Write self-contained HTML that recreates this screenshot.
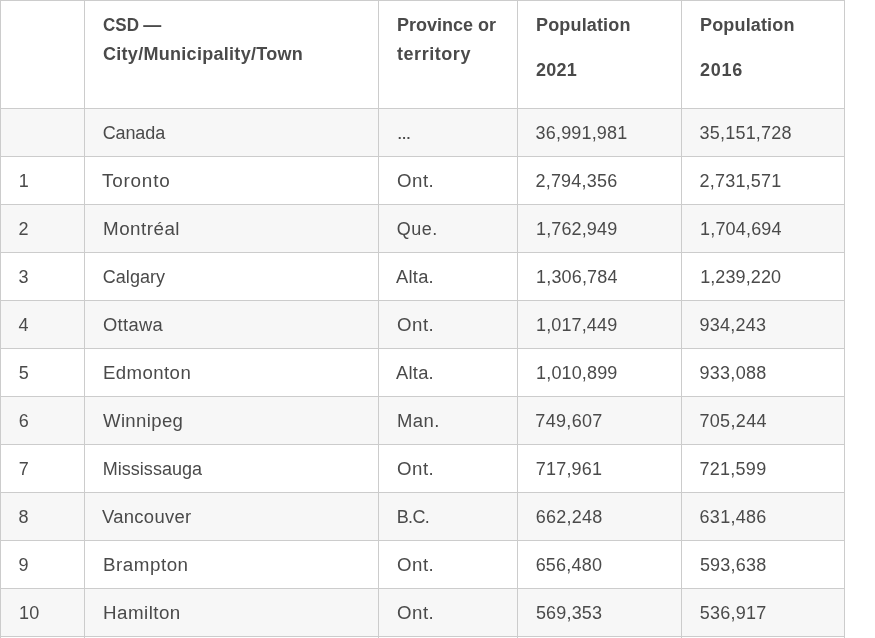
<!DOCTYPE html>
<html lang="en">
<head>
<meta charset="utf-8">
<title>Largest municipalities in Canada by population</title>
<style>
html,body{margin:0;padding:0;background:#fff;}
body{font-family:"Liberation Sans","DejaVu Sans",sans-serif;color:#4a4a4a;}
.page{position:relative;width:875px;height:638px;overflow:hidden;background:#fff;}
table{border-collapse:collapse;table-layout:fixed;width:844px;position:absolute;left:0;top:0;
  font-size:18px;line-height:29px;}
th,td{border:1px solid #ccc;padding:0 0 0 18px;text-align:left;box-sizing:border-box;overflow:hidden;white-space:nowrap;}
thead th{height:108px;vertical-align:top;font-weight:bold;padding-top:10px;}
thead th p{margin:0 0 16px 0;}
tbody td{height:48px;vertical-align:middle;font-weight:normal;padding-top:2px;}
tbody tr:nth-child(odd) td{background:#f7f7f7;}
col.c1{width:84px}col.c2{width:294px}col.c3{width:139px}col.c4{width:164px}col.c5{width:163px}
span{display:inline-block;white-space:nowrap;transform-origin:0 50%;}
.e{font-size:13.7px;font-weight:bold;}
</style>
</head>
<body>
<div class="page">
<table>
<colgroup><col class="c1"><col class="c2"><col class="c3"><col class="c4"><col class="c5"></colgroup>
<thead>
<tr><th></th><th><span style="transform:scaleX(0.945)">CSD</span> <span style="margin-left:-2.90px">—</span><br><span style="letter-spacing:0.29px">City/Municipality/Town</span></th><th>Province or<br><span style="letter-spacing:0.55px">territory</span></th><th><p><span style="letter-spacing:0.16px">Population</span></p><p><span style="letter-spacing:0.27px">2021</span></p></th><th><p><span style="letter-spacing:0.16px">Population</span></p><p><span style="letter-spacing:0.75px">2016</span></p></th></tr>
</thead>
<tbody>
<tr><td></td><td><span style="letter-spacing:-0.13px;margin-left:-0.27px">Canada</span></td><td><span class="e" style="margin-left:0.18px">…</span></td><td><span style="letter-spacing:0.17px;margin-left:-0.42px">36,991,981</span></td><td><span style="letter-spacing:0.20px;margin-left:-0.41px">35,151,728</span></td></tr>
<tr><td><span style="margin-left:-0.30px">1</span></td><td><span style="letter-spacing:0.74px;margin-left:-0.96px;transform:scaleX(1.050)">Toronto</span></td><td><span style="letter-spacing:0.50px;margin-left:-0.18px;transform:scaleX(1.036)">Ont.</span></td><td><span style="letter-spacing:0.22px;margin-left:-0.57px">2,794,356</span></td><td><span style="letter-spacing:0.23px;margin-left:-0.59px">2,731,571</span></td></tr>
<tr><td><span style="margin-left:-0.50px">2</span></td><td><span style="letter-spacing:0.47px;margin-left:-0.21px;transform:scaleX(1.044)">Montréal</span></td><td><span style="letter-spacing:0.50px;margin-left:-0.28px">Que.</span></td><td><span style="letter-spacing:0.14px;margin-left:-0.02px">1,762,949</span></td><td><span style="letter-spacing:0.17px;margin-left:0.08px">1,704,694</span></td></tr>
<tr><td><span style="margin-left:-0.50px">3</span></td><td><span style="letter-spacing:0.05px;margin-left:-0.29px">Calgary</span></td><td><span style="letter-spacing:0.25px;margin-left:-0.53px;transform:scaleX(1.019)">Alta.</span></td><td><span style="letter-spacing:0.16px;margin-left:0.10px">1,306,784</span></td><td><span style="letter-spacing:0.10px;margin-left:0.14px">1,239,220</span></td></tr>
<tr><td><span style="margin-left:-0.50px">4</span></td><td><span style="letter-spacing:0.30px;margin-left:-0.15px;transform:scaleX(1.020)">Ottawa</span></td><td><span style="letter-spacing:0.50px;margin-left:-0.18px;transform:scaleX(1.036)">Ont.</span></td><td><span style="letter-spacing:0.14px;margin-left:-0.02px">1,017,449</span></td><td><span style="letter-spacing:0.22px;margin-left:-0.47px">934,243</span></td></tr>
<tr><td><span style="margin-left:-0.32px">5</span></td><td><span style="letter-spacing:0.41px;margin-left:-0.40px;transform:scaleX(1.033)">Edmonton</span></td><td><span style="letter-spacing:0.25px;margin-left:-0.53px;transform:scaleX(1.019)">Alta.</span></td><td><span style="letter-spacing:0.14px;margin-left:0.10px">1,010,899</span></td><td><span style="letter-spacing:0.27px;margin-left:-0.48px">933,088</span></td></tr>
<tr><td><span style="margin-left:-0.34px">6</span></td><td><span style="letter-spacing:0.35px;margin-left:-0.21px;transform:scaleX(1.031)">Winnipeg</span></td><td><span style="letter-spacing:0.47px;margin-left:-0.25px;transform:scaleX(1.026)">Man.</span></td><td><span style="letter-spacing:0.32px;margin-left:-0.65px">749,607</span></td><td><span style="letter-spacing:0.35px;margin-left:-0.63px">705,244</span></td></tr>
<tr><td><span style="margin-left:-0.34px">7</span></td><td><span style="letter-spacing:0.03px;margin-left:-0.29px">Mississauga</span></td><td><span style="letter-spacing:0.50px;margin-left:-0.18px;transform:scaleX(1.036)">Ont.</span></td><td><span style="letter-spacing:0.20px;margin-left:-0.25px">717,961</span></td><td><span style="letter-spacing:0.29px;margin-left:-0.64px">721,599</span></td></tr>
<tr><td><span style="margin-left:-0.50px">8</span></td><td><span style="letter-spacing:0.30px;margin-left:-0.66px;transform:scaleX(1.023)">Vancouver</span></td><td><span style="letter-spacing:-0.62px;margin-left:-0.29px">B.C.</span></td><td><span style="letter-spacing:0.24px;margin-left:-0.37px">662,248</span></td><td><span style="letter-spacing:0.26px;margin-left:-0.41px">631,486</span></td></tr>
<tr><td><span style="margin-left:-0.50px">9</span></td><td><span style="letter-spacing:0.50px;margin-left:0.03px;transform:scaleX(1.043)">Brampton</span></td><td><span style="letter-spacing:0.50px;margin-left:-0.18px;transform:scaleX(1.036)">Ont.</span></td><td><span style="letter-spacing:0.22px;margin-left:-0.39px">656,480</span></td><td><span style="letter-spacing:0.21px;margin-left:-0.11px">593,638</span></td></tr>
<tr><td><span style="letter-spacing:0.31px;margin-left:-0.07px">10</span></td><td><span style="letter-spacing:0.45px;margin-left:-0.15px;transform:scaleX(1.042)">Hamilton</span></td><td><span style="letter-spacing:0.50px;margin-left:-0.18px;transform:scaleX(1.036)">Ont.</span></td><td><span style="letter-spacing:0.18px;margin-left:-0.14px">569,353</span></td><td><span style="letter-spacing:0.22px;margin-left:-0.20px">536,917</span></td></tr>
<tr><td><span style="letter-spacing:0.31px;margin-left:-0.07px">11</span></td><td><span style="letter-spacing:0.39px;margin-left:-0.25px">Québec</span></td><td><span style="letter-spacing:0.50px;margin-left:-0.28px">Que.</span></td><td><span style="letter-spacing:0.18px;margin-left:-0.14px">549,459</span></td><td><span style="letter-spacing:0.22px;margin-left:-0.20px">531,902</span></td></tr>
</tbody>
</table>
</div>
</body>
</html>
